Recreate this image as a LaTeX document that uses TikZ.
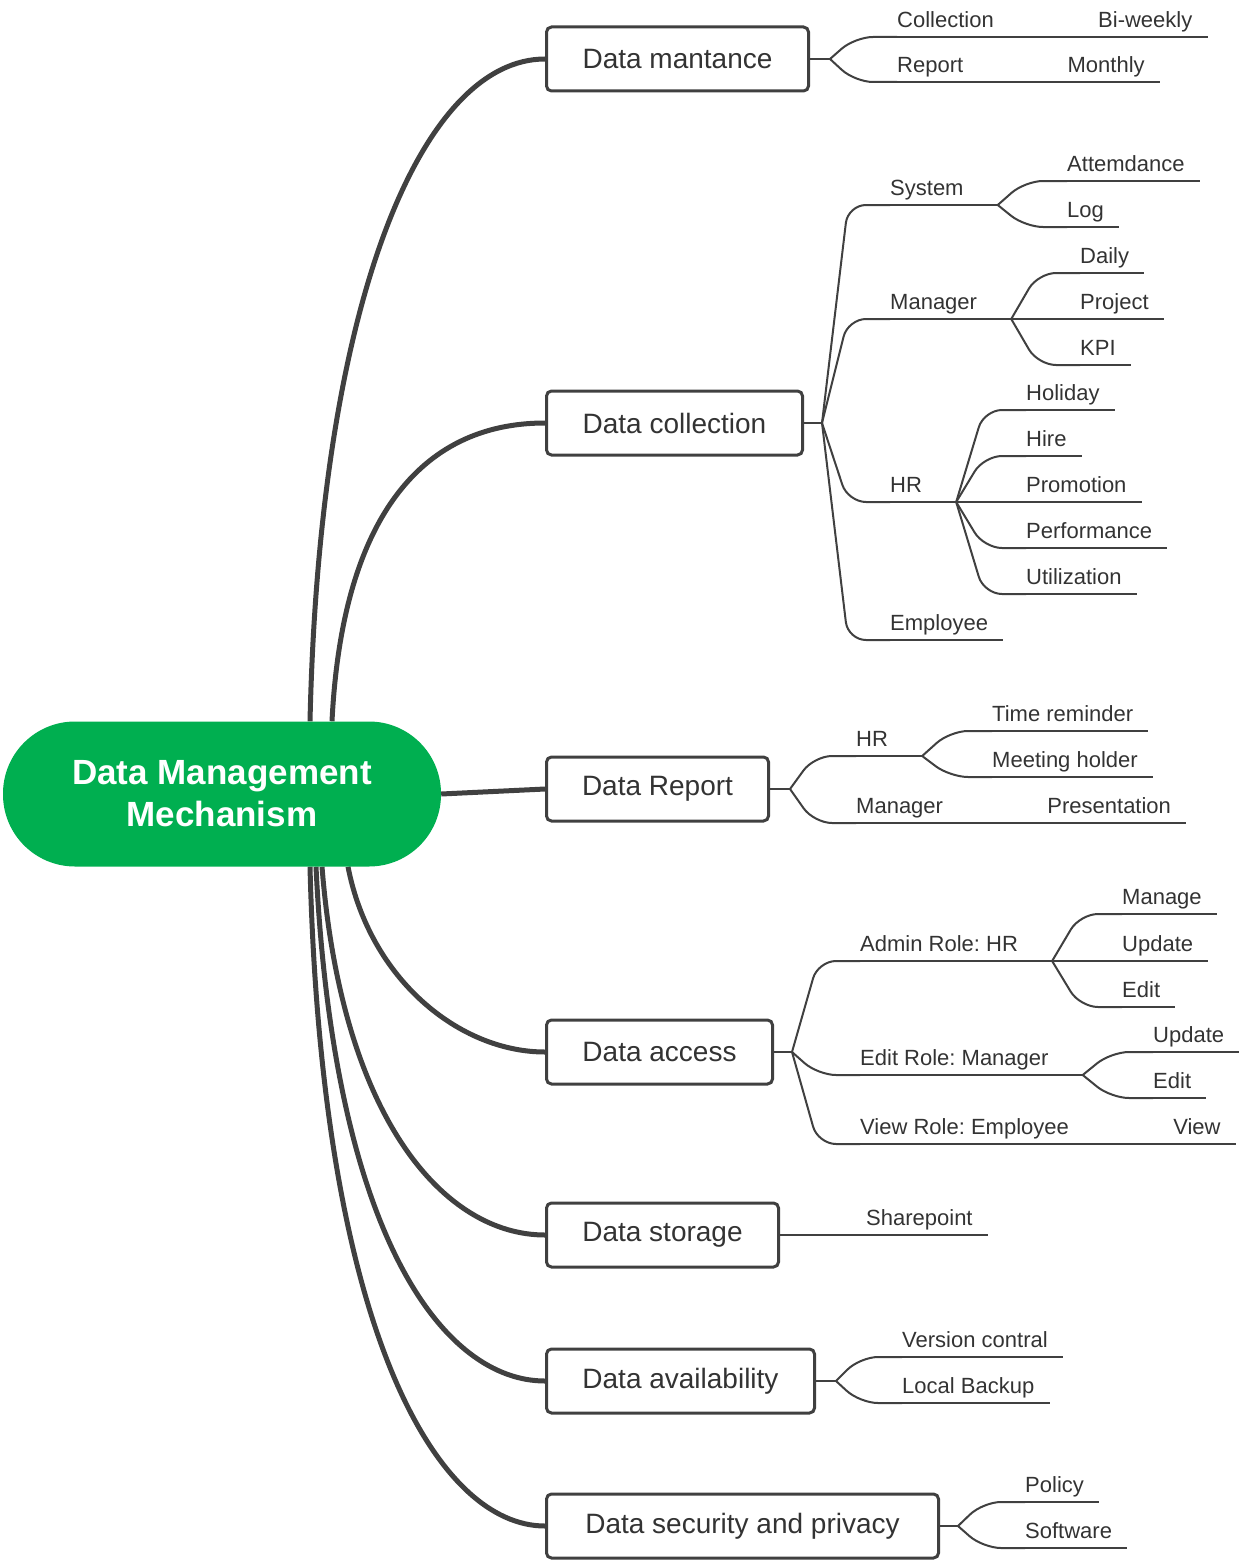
\documentclass[tikz,border=0pt]{standalone}
\usepackage{fontspec}
\setmainfont{Liberation Sans}
\usepackage{tikz}
\usetikzlibrary{positioning, backgrounds}
\definecolor{wire}{RGB}{64,64,64}
\definecolor{ink}{RGB}{51,51,51}
\definecolor{coregreen}{RGB}{0,175,80}
\newcommand\corefont{\fontsize{35}{42}\selectfont\bfseries}
\newcommand\topicfont{\fontsize{28}{32}\selectfont}
\newcommand\twigfont{\fontsize{22}{26}\selectfont}
\frenchspacing

\tikzset{
  core/.style={fill=coregreen, rounded corners=72pt, minimum width=438pt, minimum height=145pt,
    text=white, font=\corefont, align=center},
  topic/.style={draw=wire, line width=3pt, rounded corners=5pt, minimum height=64pt, anchor=west,
    font=\topicfont, text=ink},
  trunk/.style={draw=wire, line width=5pt},
  branch/.style={draw=wire, line width=2pt, rounded corners=18pt},
  twigtext/.style={font=\twigfont, text=ink, inner xsep=0pt, inner ysep=9pt, text height=16pt,
    text depth=0pt, anchor=south west},
  leaf/.style={twigtext, append after command={([xshift=-24pt]\tikzlastnode.south west) edge[branch] ([xshift=15pt]\tikzlastnode.south east)}},
  hub/.style={twigtext, append after command={([xshift=-24pt]\tikzlastnode.south west) edge[branch] ([xshift=34pt]\tikzlastnode.south east)}},
}

\begin{document}
\begin{tikzpicture}[x=1pt, y=1pt]
  \useasboundingbox (0,0) rectangle (1240,-1560);

  % centre and main topics
  \node[core] (core) at (222,-794) {Data Management\\Mechanism};

  \node[topic, minimum width=262pt] (dm) at (545,-59) {Data mantance};
  \node[topic, minimum width=256pt] (dc) at (545,-423) {Data collection};
  \node[topic, minimum width=222pt] (dr) at (545,-789) {Data Report};
  \node[topic, minimum width=226pt] (da) at (545,-1052) {Data access};
  \node[topic, minimum width=232pt] (ds) at (545,-1235) {Data storage};
  \node[topic, minimum width=268pt] (dav) at (545,-1381) {Data availability};
  \node[topic, minimum width=392pt] (dsp) at (545,-1526) {Data security and privacy};

  \begin{scope}[on background layer]
    \draw[trunk] ([xshift=88pt]core.north) .. controls (320,-290) and (425,-59) .. (dm.west);
    \draw[trunk] ([xshift=110pt]core.north) .. controls (342,-520) and (420,-423) .. (dc.west);
    \draw[trunk] (core.east) -- (dr.west);
    \draw[trunk] ([xshift=126pt]core.south) .. controls (370,-980) and (460,-1052) .. (da.west);
    \draw[trunk] ([xshift=100pt]core.south) .. controls (342,-1120) and (445,-1235) .. (ds.west);
    \draw[trunk] ([xshift=94pt]core.south) .. controls (334,-1240) and (445,-1381) .. (dav.west);
    \draw[trunk] ([xshift=88pt]core.south) .. controls (322,-1340) and (440,-1526) .. (dsp.west);
  \end{scope}

  % Data mantance
  \node[leaf] (coll) at (897,-37) {Collection};
  \node[leaf, right=104pt of coll] (bw) {Bi-weekly};
  \node[leaf] (rpt) at (897,-82) {Report};
  \node[leaf, right=104pt of rpt] (mon) {Monthly};
  \draw[branch] (dm.east) -- ++(20,0) coordinate (dmj);
  \foreach \c in {coll,rpt}
    \draw[branch] (dmj) -- ([xshift=-42pt]\c.south west) -- (\c.south west);
  \draw[branch] (coll.south east) -- (bw.south west);
  \draw[branch] (rpt.south east) -- (mon.south west);

  % Data collection
  \node[hub] (sys) at (890,-205) {System};
  \node[leaf] (att) at (1067,-181) {Attemdance};
  \node[leaf] (log) at (1067,-227) {Log};
  \node[hub] (mgr) at (890,-319) {Manager};
  \node[leaf] (daily) at (1080,-273) {Daily};
  \node[leaf] (proj) at (1080,-319) {Project};
  \node[leaf] (kpi) at (1080,-365) {KPI};
  \node[hub] (hr) at (890,-502) {HR};
  \node[leaf] (hol) at (1026,-410) {Holiday};
  \node[leaf] (hire) at (1026,-456) {Hire};
  \node[leaf] (promo) at (1026,-502) {Promotion};
  \node[leaf] (perf) at (1026,-548) {Performance};
  \node[leaf] (util) at (1026,-594) {Utilization};
  \node[leaf] (emp) at (890,-640) {Employee};
  \draw[branch] (dc.east) -- ++(18,0) coordinate (dcj);
  \foreach \c in {sys,mgr,hr,emp}
    \draw[branch] (dcj) -- ([xshift=-42pt]\c.south west) -- (\c.south west);
  \foreach \c in {att,log}
    \draw[branch] ([xshift=34pt]sys.south east) -- ([xshift=-42pt]\c.south west) -- (\c.south west);
  \foreach \c in {daily,proj,kpi}
    \draw[branch] ([xshift=34pt]mgr.south east) -- ([xshift=-42pt]\c.south west) -- (\c.south west);
  \foreach \c in {hol,hire,promo,perf,util}
    \draw[branch] ([xshift=34pt]hr.south east) -- ([xshift=-42pt]\c.south west) -- (\c.south west);

  % Data Report
  \node[hub] (rhr) at (856,-756) {HR};
  \node[leaf] (trem) at (992,-731) {Time reminder};
  \node[leaf] (meet) at (992,-777) {Meeting holder};
  \node[leaf] (rmgr) at (856,-823) {Manager};
  \node[leaf, right=104pt of rmgr] (pres) {Presentation};
  \draw[branch] (dr.east) -- ++(20,0) coordinate (drj);
  \foreach \c in {rhr,rmgr}
    \draw[branch] (drj) -- ([xshift=-42pt]\c.south west) -- (\c.south west);
  \foreach \c in {trem,meet}
    \draw[branch] ([xshift=34pt]rhr.south east) -- ([xshift=-42pt]\c.south west) -- (\c.south west);
  \draw[branch] (rmgr.south east) -- (pres.south west);

  % Data access
  \node[hub] (adm) at (860,-961) {Admin Role: HR};
  \node[leaf] (manage) at (1122,-914) {Manage};
  \node[leaf] (aupd) at (1122,-961) {Update};
  \node[leaf] (aedit) at (1122,-1007) {Edit};
  \node[hub] (edr) at (860,-1075) {Edit Role: Manager};
  \node[leaf] (eupd) at (1153,-1052) {Update};
  \node[leaf] (eedit) at (1153,-1098) {Edit};
  \node[leaf] (vr) at (860,-1144) {View Role: Employee};
  \node[leaf, right=104pt of vr] (view) {View};
  \draw[branch] (da.east) -- ++(18,0) coordinate (daj);
  \foreach \c in {adm,edr,vr}
    \draw[branch] (daj) -- ([xshift=-42pt]\c.south west) -- (\c.south west);
  \foreach \c in {manage,aupd,aedit}
    \draw[branch] ([xshift=34pt]adm.south east) -- ([xshift=-42pt]\c.south west) -- (\c.south west);
  \foreach \c in {eupd,eedit}
    \draw[branch] ([xshift=34pt]edr.south east) -- ([xshift=-42pt]\c.south west) -- (\c.south west);
  \draw[branch] (vr.south east) -- (view.south west);

  % Data storage
  \node[leaf] (sp) at (866,-1235) {Sharepoint};
  \draw[branch] (ds.east) -- (sp.south west);

  % Data availability
  \node[leaf] (ver) at (902,-1357) {Version contral};
  \node[leaf] (lbk) at (902,-1403) {Local Backup};
  \draw[branch] (dav.east) -- ++(20,0) coordinate (davj);
  \foreach \c in {ver,lbk}
    \draw[branch] (davj) -- ([xshift=-42pt]\c.south west) -- (\c.south west);

  % Data security and privacy
  \node[leaf] (pol) at (1025,-1502) {Policy};
  \node[leaf] (sw) at (1025,-1548) {Software};
  \draw[branch] (dsp.east) -- ++(18,0) coordinate (dspj);
  \foreach \c in {pol,sw}
    \draw[branch] (dspj) -- ([xshift=-42pt]\c.south west) -- (\c.south west);
\end{tikzpicture}
\end{document}
